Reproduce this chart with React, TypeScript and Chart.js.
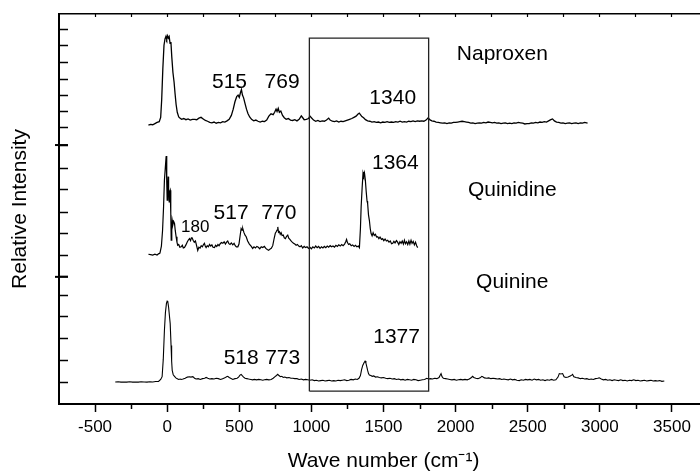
import { useEffect, useRef } from 'react';
import { Chart, registerables } from 'chart.js';

Chart.register(...registerables);

// ---------- data ----------
const X_MIN = -750;
const X_MAX = 3750;
const Y_MIN = 0;
const Y_MAX = 100;

const X_TICKS = [-500, 0, 500, 1000, 1500, 2000, 2500, 3000, 3500];
const X_MINOR_TICKS = [-250, 250, 750, 1250, 1750, 2250, 2750, 3250];
const X_TOP_TICKS = [-500, -250, 0, 250, 500, 750, 1000, 1250, 1500, 1750, 2000, 2250, 2500, 2750, 3000, 3250, 3500];
const Y_TICKS = [5.6, 11.1, 16.7, 22.4, 27.9, 32.6, 38.0, 43.8, 49.2, 54.9, 60.4, 66.4, 70.8, 74.9, 79.2, 83.3, 87.6, 91.8, 95.9];
const Y_BREAKS = [66.4, 32.6];

const X_TITLE = 'Wave number (cm\u207B\u00B9)';
const Y_TITLE = 'Relative Intensity';

const NAPROXEN: [number, number][] = [
  [-130, 71.5], [-115, 71.7], [-100, 71.6], [-85, 71.9], [-70, 72.2], [-55, 72.4], [-45, 73.5], [-38, 78], [-30, 86],
  [-22, 92.0], [-15, 93.6], [-8, 94.3], [-3, 93.6], [3, 94.4], [8, 93.8], [14, 94.2], [20, 92.5], [26, 92.8], [32, 89],
  [40, 85], [48, 82.5], [55, 79.5], [62, 76.8], [70, 74.8], [80, 73.6], [90, 73.3], [100, 73.0], [115, 73.2], [130, 72.9],
  [145, 73.1], [160, 72.8], [175, 73.0], [190, 73.0], [205, 72.9], [220, 73.3], [235, 73.5], [250, 73.1], [265, 72.7],
  [280, 72.5], [295, 72.2], [310, 72.1], [325, 72.3], [340, 72.0], [355, 72.2], [370, 72.1], [385, 72.4], [400, 72.3],
  [415, 72.6], [430, 73.0], [445, 74.0], [458, 75.6], [470, 77.5], [482, 78.8], [492, 79.2], [500, 78.6], [508, 79.8],
  [515, 80.6], [522, 79.2], [530, 78.5], [540, 77.0], [550, 75.6], [560, 74.5], [572, 73.6], [585, 73.0], [600, 72.6],
  [615, 72.8], [630, 72.5], [645, 72.3], [660, 72.5], [675, 72.4], [690, 72.8], [705, 73.8], [720, 74.4], [735, 74.2],
  [745, 74.8], [755, 75.6], [762, 75.0], [770, 75.8], [778, 74.8], [788, 75.1], [800, 74.0], [812, 73.4], [825, 73.0],
  [840, 73.2], [855, 72.8], [870, 72.7], [885, 72.9], [900, 72.6], [915, 73.0], [930, 73.9], [940, 73.4], [950, 72.9],
  [965, 73.0], [980, 73.2], [990, 73.8], [1000, 73.4], [1015, 72.8], [1030, 72.5], [1045, 72.7], [1060, 72.4],
  [1075, 72.6], [1090, 72.5], [1105, 72.8], [1120, 73.3], [1130, 72.8], [1145, 72.5], [1160, 72.4], [1175, 72.6],
  [1190, 72.3], [1205, 72.5], [1220, 72.4], [1235, 72.6], [1250, 72.8], [1265, 73.0], [1280, 73.2], [1295, 73.5],
  [1310, 73.8], [1322, 74.3], [1332, 74.6], [1340, 74.2], [1350, 73.7], [1362, 73.4], [1375, 72.9], [1390, 72.6],
  [1405, 72.5], [1420, 72.3], [1435, 72.4], [1450, 72.2], [1465, 72.3], [1480, 72.1], [1495, 72.3], [1510, 72.2],
  [1525, 72.4], [1540, 72.2], [1555, 72.3], [1570, 72.2], [1585, 72.4], [1600, 72.3], [1615, 72.5], [1630, 72.3],
  [1645, 72.4], [1660, 72.3], [1675, 72.5], [1690, 72.4], [1705, 72.6], [1720, 72.4], [1735, 72.6], [1750, 72.5],
  [1765, 72.6], [1780, 72.5], [1795, 72.8], [1810, 73.4], [1820, 72.9], [1835, 72.6], [1850, 72.5], [1865, 72.3],
  [1880, 72.2], [1895, 72.1], [1910, 72.0], [1925, 72.1], [1940, 71.9], [1955, 72.1], [1970, 72.0], [1985, 72.2],
  [2000, 72.2], [2015, 72.3], [2030, 72.4], [2045, 72.5], [2060, 72.4], [2075, 72.3], [2090, 72.2], [2105, 72.0],
  [2120, 72.1], [2135, 71.9], [2150, 72.0], [2165, 72.1], [2180, 72.0], [2195, 72.2], [2210, 72.1], [2225, 72.3],
  [2240, 72.2], [2255, 72.1], [2270, 72.2], [2285, 72.0], [2300, 72.1], [2315, 71.9], [2330, 72.0], [2345, 72.1],
  [2360, 71.9], [2375, 72.0], [2390, 71.9], [2405, 72.1], [2420, 72.0], [2435, 72.2], [2450, 72.1], [2465, 72.0],
  [2480, 71.8], [2495, 71.9], [2510, 71.9], [2525, 72.1], [2540, 72.0], [2555, 72.2], [2570, 72.1], [2585, 72.3],
  [2600, 72.2], [2615, 72.4], [2630, 72.3], [2645, 72.6], [2660, 72.9], [2672, 73.1], [2685, 72.6], [2700, 72.3],
  [2715, 72.2], [2730, 72.0], [2745, 72.1], [2760, 71.9], [2775, 72.0], [2790, 72.1], [2805, 71.9], [2820, 72.0],
  [2835, 72.1], [2850, 71.9], [2865, 72.1], [2880, 72.0], [2895, 72.2], [2915, 72.0],
];

const QUINIDINE: [number, number][] = [
  [-130, 38.4], [-115, 38.3], [-100, 38.2], [-85, 38.4], [-70, 38.2], [-60, 38.5], [-50, 38.7], [-40, 40.5], [-32, 44.5],
  [-25, 50.5], [-19, 57.4], [-13, 60.5], [-7, 63.6], [-3, 57], [0, 52.3], [4, 56], [7, 58.3], [10, 55], [14, 51.8],
  [18, 54.5], [21, 54.8], [25, 49], [28, 42.0], [32, 44.5], [35, 47.1], [40, 46.0], [45, 46.8], [51, 46.3], [56, 44.5],
  [62, 42.9], [68, 41.5], [73, 40.7], [80, 40.9], [88, 40.2], [97, 40.3], [105, 40.7], [112, 40.0], [120, 40.1],
  [130, 40.8], [140, 41.6], [148, 42.1], [155, 42.4], [162, 41.9], [168, 42.6], [173, 42.6], [180, 42.0], [188, 41.5],
  [196, 41.8], [204, 40.6], [212, 39.4], [220, 40.2], [228, 40.0], [236, 40.6], [244, 40.3], [252, 40.9], [258, 41.2],
  [264, 40.5], [270, 40.1], [278, 40.6], [286, 40.3], [294, 40.9], [302, 40.5], [310, 40.8], [318, 40.2], [328, 40.1],
  [336, 40.7], [344, 40.4], [352, 40.9], [360, 40.6], [368, 41.1], [376, 41.4], [386, 41.2], [395, 41.6], [404, 41.0],
  [412, 41.5], [420, 41.8], [428, 41.1], [436, 40.9], [445, 41.3], [455, 40.8], [464, 41.2], [472, 40.6], [480, 40.3],
  [490, 40.3], [498, 41.0], [506, 43.2], [513, 45.0], [519, 44.6], [524, 45.0], [532, 44.0], [540, 43.3], [548, 42.9],
  [558, 41.8], [570, 41.0], [582, 40.5], [593, 39.9], [602, 40.3], [612, 40.0], [622, 40.4], [632, 40.2], [642, 39.8],
  [652, 40.3], [662, 40.1], [674, 40.4], [684, 39.9], [694, 39.6], [704, 39.4], [712, 39.7], [722, 39.9], [732, 40.6],
  [742, 42.5], [750, 43.8], [755, 44.1], [762, 44.6], [767, 45.4], [772, 44.0], [778, 44.2], [784, 43.5], [790, 43.9],
  [797, 43.2], [805, 43.3], [812, 42.6], [820, 42.4], [828, 43.0], [836, 43.3], [843, 42.5], [851, 42.2], [859, 41.8],
  [867, 41.5], [876, 41.2], [885, 41.0], [894, 40.7], [903, 40.9], [912, 40.5], [921, 40.3], [930, 40.6], [940, 40.0],
  [950, 40.4], [960, 40.1], [970, 40.3], [980, 39.9], [990, 40.2], [1000, 39.8], [1010, 40.3], [1020, 40.0], [1030, 40.5],
  [1040, 40.1], [1050, 40.4], [1060, 39.9], [1070, 40.3], [1080, 40.0], [1090, 40.4], [1100, 40.1], [1110, 40.5],
  [1120, 40.2], [1130, 40.6], [1140, 40.3], [1150, 40.5], [1160, 40.2], [1170, 40.7], [1180, 40.4], [1190, 40.8],
  [1200, 40.5], [1210, 40.9], [1220, 40.6], [1230, 41.0], [1238, 41.6], [1244, 42.2], [1250, 41.4], [1258, 40.9],
  [1266, 41.1], [1276, 40.6], [1286, 40.8], [1296, 40.4], [1306, 40.7], [1316, 40.3], [1326, 40.5], [1333, 40.1],
  [1340, 45.0], [1345, 50.6], [1352, 55.5], [1358, 59.2], [1361, 59.5], [1364, 58.5], [1368, 59.3], [1374, 57.5],
  [1380, 54.5], [1386, 52.0], [1390, 51.4], [1396, 48.5], [1402, 47.1], [1408, 45.0], [1414, 43.7], [1421, 43.1],
  [1428, 43.9], [1436, 43.2], [1444, 43.5], [1452, 42.8], [1460, 42.9], [1468, 42.4], [1476, 42.8], [1486, 42.2],
  [1494, 42.4], [1502, 41.9], [1511, 42.3], [1520, 41.8], [1529, 42.0], [1538, 41.5], [1547, 41.8], [1556, 41.1],
  [1564, 41.2], [1572, 41.7], [1580, 41.3], [1590, 41.9], [1598, 41.5], [1606, 40.9], [1614, 41.6], [1622, 41.2],
  [1630, 41.8], [1638, 41.0], [1645, 42.0], [1652, 41.1], [1660, 41.6], [1668, 40.9], [1676, 41.8], [1683, 41.0],
  [1691, 42.0], [1698, 41.2], [1706, 41.7], [1714, 40.8], [1722, 41.5], [1730, 40.6], [1737, 40.1],
];

const QUININE: [number, number][] = [
  [-360, 5.65], [-340, 5.7], [-320, 5.6], [-300, 5.65], [-280, 5.6], [-260, 5.7], [-240, 5.6], [-220, 5.65], [-200, 5.6],
  [-180, 5.7], [-160, 5.65], [-140, 5.6], [-120, 5.7], [-100, 5.65], [-80, 5.75], [-60, 5.8], [-45, 6.3], [-35, 7.0],
  [-27, 11.5], [-19, 18.9], [-12, 23.5], [-5, 25.8], [0, 26.4], [4, 26.3], [10, 24.8], [16, 22.5], [21, 20.6], [27, 15.0],
  [31, 11.0], [35, 8.6], [42, 7.5], [51, 7.1], [60, 6.7], [70, 6.5], [80, 6.3], [90, 6.4], [97, 6.3], [110, 6.4],
  [125, 6.6], [140, 6.9], [155, 7.0], [165, 6.9], [178, 7.0], [190, 6.6], [200, 6.4], [215, 6.5], [230, 6.3], [245, 6.5],
  [260, 6.6], [270, 6.8], [282, 6.6], [295, 6.4], [310, 6.5], [325, 6.4], [340, 6.6], [355, 6.5], [370, 6.3], [385, 6.5],
  [400, 6.7], [412, 7.0], [420, 7.1], [430, 6.8], [440, 6.6], [455, 6.3], [470, 6.5], [485, 6.6], [495, 6.9], [505, 7.4],
  [513, 7.6], [522, 7.2], [530, 6.9], [540, 6.6], [552, 6.5], [565, 6.4], [580, 6.3], [593, 6.2], [605, 6.3], [620, 6.2],
  [635, 6.3], [650, 6.2], [663, 6.1], [675, 6.2], [690, 6.3], [705, 6.2], [721, 6.3], [735, 6.6], [748, 7.0], [758, 7.3],
  [767, 7.6], [775, 7.3], [785, 7.0], [795, 7.1], [805, 6.8], [815, 6.9], [830, 6.7], [845, 6.8], [858, 6.6], [871, 6.6],
  [885, 6.5], [900, 6.5], [915, 6.3], [930, 6.4], [945, 6.2], [960, 6.3], [975, 6.2], [990, 6.1], [1005, 6.2], [1020, 6.0],
  [1035, 6.1], [1050, 5.9], [1065, 6.0], [1080, 6.1], [1095, 5.9], [1110, 6.0], [1125, 6.1], [1140, 5.9], [1155, 6.0],
  [1170, 5.9], [1185, 6.1], [1200, 6.0], [1215, 6.1], [1230, 6.2], [1245, 6.0], [1260, 6.1], [1275, 6.3], [1290, 6.2],
  [1305, 6.4], [1318, 6.3], [1330, 6.6], [1340, 7.3], [1348, 8.8], [1356, 9.9], [1365, 10.6], [1372, 11.0], [1378, 10.5],
  [1384, 9.6], [1390, 8.6], [1396, 7.8], [1402, 7.4], [1412, 7.3], [1422, 7.1], [1432, 7.2], [1445, 6.9], [1458, 7.0],
  [1471, 6.8], [1485, 6.7], [1500, 6.8], [1515, 6.6], [1530, 6.5], [1545, 6.6], [1560, 6.4], [1575, 6.5], [1590, 6.3],
  [1605, 6.4], [1620, 6.2], [1635, 6.3], [1650, 6.1], [1665, 6.3], [1680, 6.2], [1695, 6.1], [1710, 6.3], [1725, 6.2],
  [1740, 6.0], [1755, 6.1], [1770, 6.2], [1785, 6.3], [1800, 6.6], [1812, 6.4], [1825, 6.5], [1840, 6.4], [1855, 6.6],
  [1870, 6.5], [1885, 6.8], [1893, 7.4], [1899, 7.8], [1906, 7.0], [1915, 6.6], [1930, 6.5], [1945, 6.4], [1960, 6.3],
  [1975, 6.2], [1990, 6.3], [2005, 6.1], [2020, 6.2], [2035, 6.3], [2050, 6.2], [2065, 6.3], [2080, 6.2], [2095, 6.4],
  [2110, 6.8], [2118, 7.1], [2126, 6.8], [2140, 6.6], [2155, 6.5], [2170, 6.7], [2182, 7.1], [2188, 7.0], [2200, 6.7],
  [2215, 6.6], [2230, 6.7], [2245, 6.5], [2260, 6.6], [2275, 6.5], [2290, 6.4], [2305, 6.5], [2320, 6.3], [2335, 6.4],
  [2350, 6.3], [2365, 6.2], [2380, 6.4], [2395, 6.2], [2410, 6.3], [2425, 6.1], [2442, 6.0], [2455, 6.2], [2470, 6.1],
  [2485, 6.3], [2500, 6.2], [2515, 6.3], [2530, 6.1], [2545, 6.4], [2560, 6.2], [2575, 6.3], [2590, 6.1], [2605, 6.2],
  [2620, 6.0], [2635, 6.2], [2650, 6.1], [2665, 6.3], [2680, 6.1], [2695, 6.2], [2710, 6.9], [2719, 7.8], [2730, 7.7],
  [2742, 7.8], [2752, 7.0], [2765, 6.8], [2780, 6.9], [2795, 7.2], [2805, 7.4], [2811, 7.6], [2820, 7.0], [2835, 6.8],
  [2850, 6.7], [2865, 6.5], [2880, 6.6], [2895, 6.4], [2910, 6.5], [2925, 6.3], [2940, 6.4], [2955, 6.3], [2970, 6.5],
  [2985, 6.6], [2996, 6.7], [3010, 6.4], [3025, 6.2], [3040, 6.3], [3055, 6.1], [3070, 6.2], [3085, 6.0], [3100, 6.2],
  [3115, 6.1], [3130, 6.0], [3145, 6.2], [3160, 6.0], [3175, 6.1], [3190, 5.9], [3205, 6.1], [3220, 6.0], [3235, 6.2],
  [3250, 6.0], [3265, 6.1], [3280, 5.9], [3295, 6.0], [3310, 6.1], [3325, 5.9], [3340, 6.0], [3355, 6.1], [3370, 5.9],
  [3385, 6.0], [3400, 5.9], [3415, 6.0], [3430, 5.8], [3447, 5.9],
];

const BOX_X = [986, 1813];
const BOX_Y = [3.3, 93.8];

const LABEL_TEXT = ['Naproxen', 'Quinidine', 'Quinine', '515', '769', '1340', '180', '517', '770', '1364', '518', '773', '1377'];
const LABEL_X = [2324, 2393, 2393, 432, 797, 1564, 195, 443, 774, 1582, 513, 801, 1591];
const LABEL_Y = [89.7, 54.8, 31.3, 82.6, 82.6, 78.4, 45.4, 48.9, 48.9, 61.7, 11.8, 11.8, 17.2];
const LABEL_SIZE = [21, 21, 21, 21, 21, 21, 17, 21, 21, 21, 21, 21, 21];

const FONT = "'Liberation Sans', Arial, Helvetica, sans-serif";

const toPts = (arr: [number, number][]) => arr.map(([x, y]) => ({ x, y }));

const extrasPlugin = {
  id: 'extras',
  afterDraw(chart: any) {
    const { ctx, scales, chartArea } = chart;
    const xs = scales.x;
    const ys = scales.y;
    ctx.save();
    ctx.strokeStyle = '#000';
    // minor bottom ticks
    ctx.lineWidth = 1.5;
    for (const v of X_MINOR_TICKS) {
      const px = Math.round(xs.getPixelForValue(v)) + 0.5;
      ctx.beginPath();
      ctx.moveTo(px, chartArea.bottom);
      ctx.lineTo(px, chartArea.bottom + 5);
      ctx.stroke();
    }
    // axis break marks
    ctx.lineWidth = 2;
    for (const v of Y_BREAKS) {
      const py = ys.getPixelForValue(v);
      ctx.beginPath();
      ctx.moveTo(chartArea.left - 4, py);
      ctx.lineTo(chartArea.left + 9, py);
      ctx.stroke();
    }
    // text annotations
    ctx.fillStyle = '#000';
    ctx.textAlign = 'center';
    ctx.textBaseline = 'middle';
    LABEL_TEXT.forEach((t, i) => {
      ctx.font = `${LABEL_SIZE[i]}px ${FONT}`;
      ctx.fillText(t, xs.getPixelForValue(LABEL_X[i]), ys.getPixelForValue(LABEL_Y[i]));
    });
    ctx.restore();
  },
};

export default function App() {
  const ref = useRef<HTMLCanvasElement>(null);
  useEffect(() => {
    const canvas = ref.current!;
    Chart.defaults.font.family = FONT;
    const lineDs = (label: string, data: [number, number][], width: number) => ({
      label,
      data: toPts(data),
      borderColor: '#000',
      borderWidth: width,
      pointRadius: 0,
      tension: 0,
      fill: false,
    });
    const box: [number, number][] = [
      [BOX_X[0], BOX_Y[0]], [BOX_X[1], BOX_Y[0]], [BOX_X[1], BOX_Y[1]], [BOX_X[0], BOX_Y[1]], [BOX_X[0], BOX_Y[0]],
    ];
    const chart = new Chart(canvas, {
      type: 'line',
      data: {
        datasets: [
          { ...lineDs('box', box, 1.3), borderColor: '#222' },
          lineDs('Naproxen', NAPROXEN, 1.3),
          lineDs('Quinidine', QUINIDINE, 1.2),
          lineDs('Quinine', QUININE, 1.1),
        ],
      },
      options: {
        responsive: false,
        animation: false,
        layout: { padding: 0 },
        plugins: { legend: { display: false }, tooltip: { enabled: false } },
        scales: {
          x: {
            type: 'linear',
            position: 'bottom',
            min: X_MIN,
            max: X_MAX,
            afterBuildTicks: (s: any) => { s.ticks = X_TICKS.map((v) => ({ value: v })); },
            afterFit: (s: any) => { s.height = 68; },
            ticks: {
              color: '#000',
              font: { size: 17, family: FONT },
              padding: 5,
              maxRotation: 0,
              autoSkip: false,
              callback: (v: any) => String(v),
            },
            grid: { drawOnChartArea: false, tickLength: 8, tickColor: '#000', tickWidth: 1.5 },
            border: { color: '#000', width: 2 },
            title: {
              display: true,
              text: X_TITLE,
              color: '#000',
              font: { size: 21, family: FONT, lineHeight: 1 },
              padding: { top: 0, bottom: 0 },
            },
          },
          xTop: {
            type: 'linear',
            position: 'top',
            min: X_MIN,
            max: X_MAX,
            afterBuildTicks: (s: any) => { s.ticks = X_TOP_TICKS.map((v) => ({ value: v })); },
            afterFit: (s: any) => { s.height = 14; },
            ticks: { display: false },
            grid: { drawOnChartArea: false, tickLength: -3, tickColor: '#000', tickWidth: 1.2 },
            border: { color: '#000', width: 1.5 },
          },
          y: {
            type: 'linear',
            position: 'left',
            min: Y_MIN,
            max: Y_MAX,
            afterBuildTicks: (s: any) => { s.ticks = Y_TICKS.map((v) => ({ value: v })); },
            afterFit: (s: any) => { s.width = 59; },
            ticks: { display: false },
            grid: { drawOnChartArea: false, tickLength: -9, tickColor: '#000', tickWidth: 1.5 },
            border: { color: '#000', width: 2 },
            title: {
              display: true,
              text: Y_TITLE,
              color: '#000',
              font: { size: 21, family: FONT, lineHeight: 1 },
              padding: { top: 10, bottom: 0 },
            },
          },
        },
      } as any,
      plugins: [extrasPlugin],
    });
    return () => chart.destroy();
  }, []);
  return (
    <div style={{ position: 'fixed', left: 0, top: 0, width: 700, height: 472, overflow: 'hidden', background: '#fff' }}>
      <canvas ref={ref} width={708} height={472} style={{ display: 'block', width: 708, height: 472 }} />
    </div>
  );
}
